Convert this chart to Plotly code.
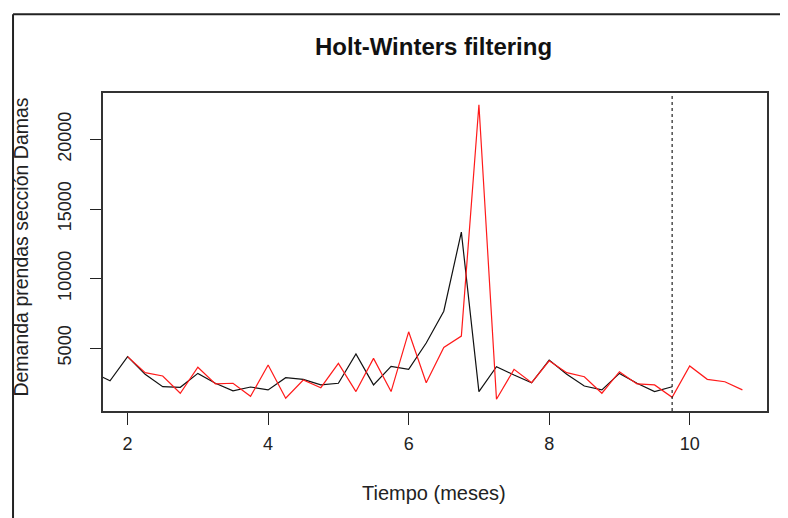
import plotly.graph_objects as go

# Observed series (black)
obs_t = [1.5, 1.75, 2.0, 2.25, 2.5, 2.75, 3.0, 3.25, 3.5, 3.75, 4.0, 4.25, 4.5, 4.75,
         5.0, 5.25, 5.5, 5.75, 6.0, 6.25, 6.5, 6.75, 7.0, 7.25, 7.5, 7.75, 8.0, 8.25,
         8.5, 8.75, 9.0, 9.25, 9.5, 9.75]
obs_v = [3260, 2650, 4380, 3110, 2220, 2180, 3180, 2470, 1920, 2200, 1990, 2870, 2750, 2350,
         2470, 4570, 2350, 3680, 3470, 5360, 7650, 13340, 1870, 3660, 3060, 2500, 4140, 3110,
         2270, 1990, 3180, 2470, 1870, 2220]

# Fitted + predicted series (red)
fit_t = [2.0, 2.25, 2.5, 2.75, 3.0, 3.25, 3.5, 3.75, 4.0, 4.25, 4.5, 4.75, 5.0, 5.25,
         5.5, 5.75, 6.0, 6.25, 6.5, 6.75, 7.0, 7.25, 7.5, 7.75, 8.0, 8.25, 8.5, 8.75,
         9.0, 9.25, 9.5, 9.75, 10.0, 10.25, 10.5, 10.75]
fit_v = [4380, 3230, 2990, 1750, 3620, 2420, 2470, 1530, 3780, 1390, 2700, 2150, 3900, 1870,
         4260, 1870, 6170, 2510, 5050, 5860, 22500, 1320, 3470, 2510, 4080, 3230, 2940, 1750,
         3300, 2420, 2350, 1460, 3710, 2750, 2580, 1990]

x_ticks = [2, 4, 6, 8, 10]
y_ticks = [5000, 10000, 15000, 20000]
forecast_start = 9.75

FONT = "Arial, Liberation Sans, sans-serif"

fig = go.Figure()
fig.add_trace(go.Scatter(x=obs_t, y=obs_v, mode="lines",
                         line=dict(color="#111111", width=1.2), showlegend=False))
fig.add_trace(go.Scatter(x=fit_t, y=fit_v, mode="lines",
                         line=dict(color="#ff1a1a", width=1.2), showlegend=False))

fig.add_shape(type="line", xref="x", yref="paper", x0=forecast_start, x1=forecast_start,
              y0=0, y1=1, line=dict(color="#222222", width=1.2, dash="dot"))

# outer window frame (top and left)
fig.add_shape(type="line", xref="paper", yref="paper", x0=-0.1355, x1=1.06,
              y0=1.248, y1=1.248, line=dict(color="#222222", width=2))
fig.add_shape(type="line", xref="paper", yref="paper", x0=-0.1355, x1=-0.1355,
              y0=-0.37, y1=1.248, line=dict(color="#222222", width=2))

fig.add_annotation(text="<b>Holt-Winters filtering</b>", xref="paper", yref="paper",
                   x=0.4977, y=1.1447, xanchor="center", yanchor="middle", showarrow=False,
                   font=dict(family=FONT, size=24, color="#111111"))
fig.add_annotation(text="Tiempo (meses)", xref="paper", yref="paper",
                   x=0.4985, y=-0.258, xanchor="center", yanchor="middle", showarrow=False,
                   font=dict(family=FONT, size=20, color="#222222"))
fig.add_annotation(text="Demanda prendas sección Damas", xref="paper", yref="paper",
                   x=-0.1235, y=0.517, xanchor="center", yanchor="middle", showarrow=False,
                   textangle=-90, font=dict(family=FONT, size=19.5, color="#222222"))

fig.update_layout(
    width=788, height=518,
    margin=dict(l=95, r=29, t=85, b=115),
    paper_bgcolor="white", plot_bgcolor="white",
    font=dict(family=FONT, color="#222222"),
)
fig.update_xaxes(range=[1.65, 11.1], tickvals=x_ticks, ticktext=[str(v) for v in x_ticks],
                 ticks="outside", ticklen=12, tickwidth=1.2, tickcolor="#222222",
                 ticklabelstandoff=4,
                 showline=True, mirror=True, linecolor="#333333", linewidth=1.5,
                 showgrid=False, zeroline=False, tickfont=dict(size=18, color="#222222"))
fig.update_yaxes(range=[473, 23347], tickvals=y_ticks, ticktext=[str(v) for v in y_ticks],
                 ticks="outside", ticklen=11, tickwidth=1.2, tickcolor="#222222",
                 tickangle=-90, ticklabelstandoff=12,
                 showline=True, mirror=True, linecolor="#333333", linewidth=1.5,
                 showgrid=False, zeroline=False, tickfont=dict(size=18, color="#222222"))

fig.write_html("out.html")
